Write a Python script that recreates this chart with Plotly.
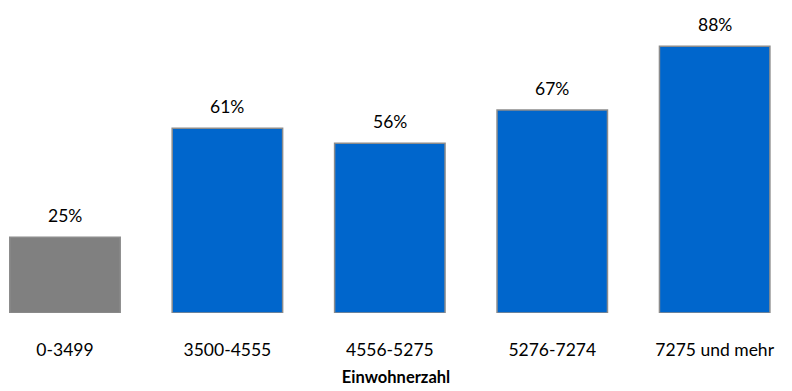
import plotly.graph_objects as go

categories = ["0-3499", "3500-4555", "4556-5275", "5276-7274", "7275 und mehr"]
values = [25, 61, 56, 67, 88]
colors = ["#808080", "#0066CC", "#0066CC", "#0066CC", "#0066CC"]
labels = [f"{v}%" for v in values]
x_title = "Einwohnerzahl"

font_family = "Lato, 'Open Sans', sans-serif"

fig = go.Figure(
    go.Bar(
        x=list(range(len(categories))),
        y=values,
        marker=dict(color=colors, line=dict(color="#8C8C8C", width=1.5)),
        width=0.68,
        hoverinfo="skip",
    )
)

for i, (v, t) in enumerate(zip(values, labels)):
    fig.add_annotation(
        x=i, y=v, text=t, showarrow=False, yanchor="bottom", yshift=9,
        font=dict(size=17.5, color="#000000", family=font_family),
    )

fig.update_layout(
    width=792, height=391,
    margin=dict(l=0, r=0, t=0, b=78),
    plot_bgcolor="white", paper_bgcolor="white",
    showlegend=False,
    font=dict(family=font_family, color="#000000"),
)
fig.update_xaxes(
    range=[-0.40, 4.476],
    tickvals=list(range(len(categories))),
    ticktext=categories,
    tickfont=dict(size=17.5),
    ticks="outside", ticklen=21, tickcolor="rgba(0,0,0,0)",
    showline=False, showgrid=False, zeroline=False,
    title=dict(text=f"<b>{x_title}</b>", font=dict(size=16.5), standoff=12),
)
fig.update_yaxes(range=[0, 103.3], visible=False)

fig.write_html("out.html")
